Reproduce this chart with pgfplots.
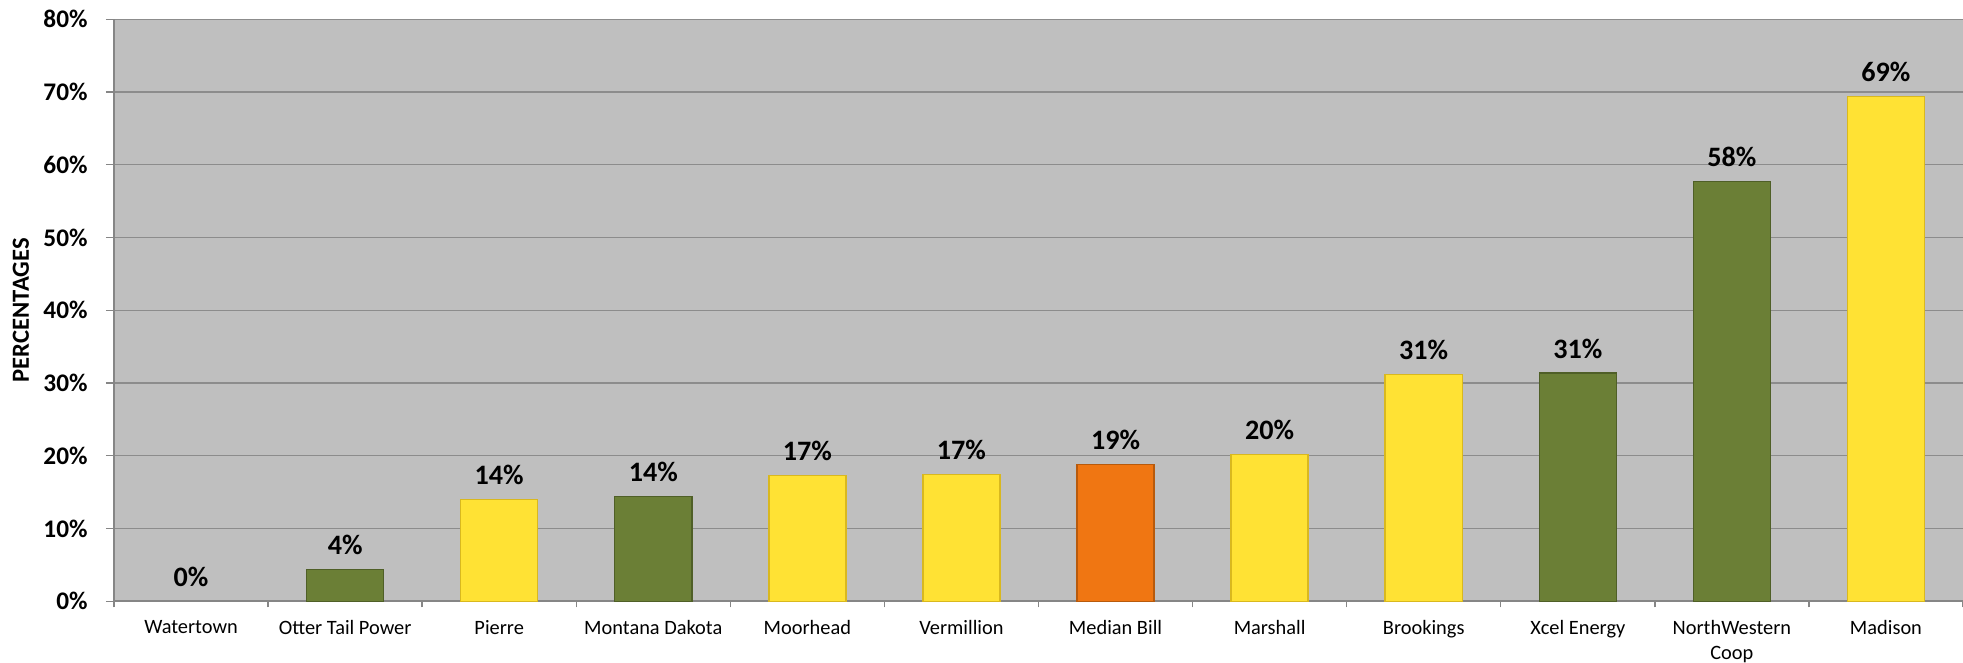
\documentclass[border=0pt]{standalone}
\usepackage{pgfplots}
\pgfplotsset{compat=1.18}
\usepackage{fontspec}
\setmainfont{Carlito}

\definecolor{plotbg}{HTML}{BFBFBF}
\definecolor{gridc}{HTML}{8C8C8C}
\definecolor{axisc}{HTML}{868686}
\definecolor{barY}{HTML}{FFE234}
\definecolor{barYd}{HTML}{D9B81E}
\definecolor{barG}{HTML}{6B7F36}
\definecolor{barGd}{HTML}{4F5F27}
\definecolor{barO}{HTML}{F07612}
\definecolor{barOd}{HTML}{B85A0C}

\begin{document}
\begin{tikzpicture}
\begin{axis}[
    scale only axis,
    width=184.9mm, height=58.2mm,
    ybar, bar shift=0pt, bar width=0.5,
    xmin=-0.5, xmax=11.5,
    ymin=0, ymax=80,
    axis background/.style={fill=plotbg},
    axis x line*=bottom, axis y line*=left,
    axis line style={draw=axisc, line width=0.6pt, -},
    xtick={0,...,11},
    xticklabels={Watertown, Otter Tail Power, Pierre, Montana Dakota, Moorhead,
      Vermillion, Median Bill, Marshall, Brookings, Xcel Energy,
      {NorthWestern\\Coop}, Madison},
    xticklabel style={font=\fontsize{5.8}{7}\selectfont, align=center, yshift=0.1mm},
    major x tick style={draw=none},
    minor xtick={-0.5,0.5,...,11.5},
    minor x tick style={draw=axisc, line width=0.4pt},
    minor tick length=0.6mm,
    ytick={0,10,...,80},
    yticklabels={0\%,10\%,20\%,30\%,40\%,50\%,60\%,70\%,80\%},
    yticklabel style={font=\fontsize{7.2}{8}\selectfont\bfseries, xshift=-0.6mm},
    major y tick style={draw=axisc, line width=0.4pt},
    major tick length=0.8mm,
    tick align=outside,
    ymajorgrids,
    major grid style={draw=gridc, line width=0.4pt},
    every axis y label/.style={at={(axis description cs:0,0.5)}, xshift=-9.3mm,
      rotate=90, anchor=center, font=\fontsize{7}{8}\selectfont\bfseries},
    ylabel={PERCENTAGES},
    nodes near coords={\pgfmathprintnumber[fixed,precision=0,assume math mode=true]{\pgfplotspointmeta}\%},
    every node near coord/.append style={font=\fontsize{8}{9}\selectfont\bfseries,
      text=black, yshift=0.6pt},
    clip=false,
  ]
  \addplot[draw=none, fill=none] coordinates {(0,0)};
  \addplot[fill=barY, draw=barYd, line width=0.4pt] coordinates
    {(2,14.0) (4,17.3) (5,17.4) (7,20.2) (8,31.2) (11,69.4)};
  \addplot[fill=barG, draw=barGd, line width=0.4pt] coordinates
    {(1,4.4) (3,14.4) (9,31.4) (10,57.7)};
  \addplot[fill=barO, draw=barOd, line width=0.4pt] coordinates
    {(6,18.8)};
  \coordinate (bl) at (rel axis cs:0,0);
  \coordinate (tr) at (rel axis cs:1,1);
\end{axis}
\pgfresetboundingbox
\path ([xshift=-11.4mm,yshift=-6.1mm]bl) rectangle ([yshift=1.93mm]tr);
\end{tikzpicture}
\end{document}
